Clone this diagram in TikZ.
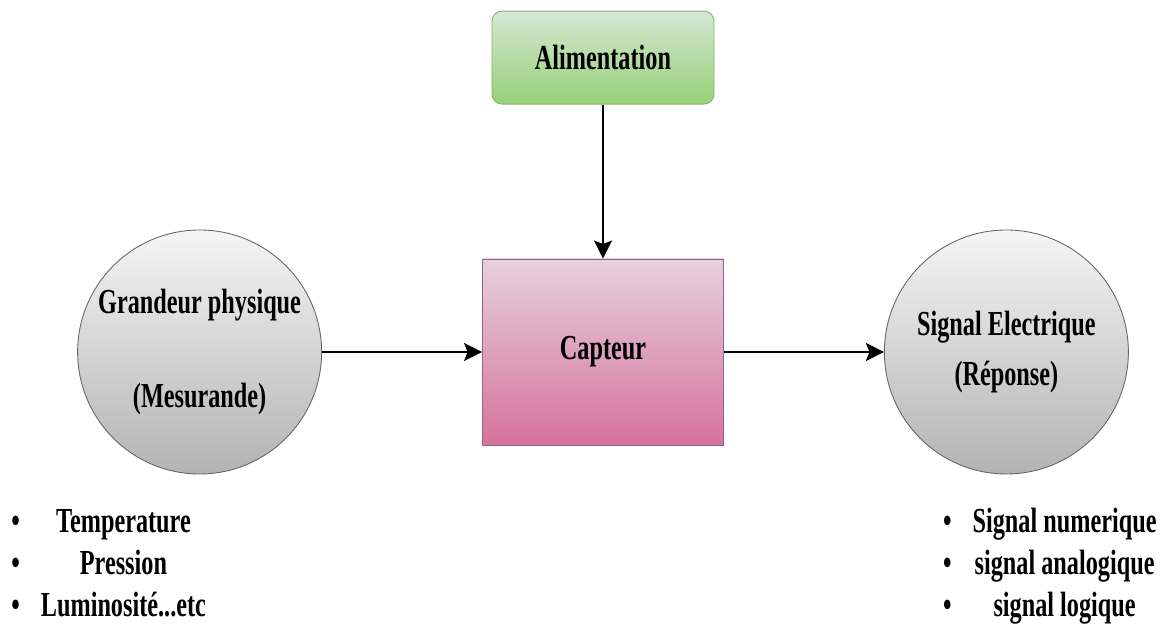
\documentclass[tikz,border=0pt]{standalone}
\usepackage{fontspec}
\setmainfont[FakeStretch=0.69]{Liberation Serif}
\usepackage{tikz}
\usetikzlibrary{arrows.meta, positioning}
\definecolor{colGreenTop}  {HTML}{D5E8D4}
\definecolor{colGreenBot}  {HTML}{97D077}
\definecolor{colGreenEdge} {HTML}{82B366}
\definecolor{colPinkTop}   {HTML}{E6D0DE}
\definecolor{colPinkBot}   {HTML}{D5739D}
\definecolor{colPinkEdge}  {HTML}{996185}
\definecolor{colGrayTop}   {HTML}{F5F5F5}
\definecolor{colGrayBot}   {HTML}{B3B3B3}
\definecolor{colGrayEdge}  {HTML}{666666}
\tikzset{
  base/.style={
    align=center, inner sep=0pt, line width=0.5pt,
    font=\fontsize{20}{24}\selectfont\bfseries
  },
  alimbox/.style={
    base, draw=colGreenEdge, rounded corners=2mm,
    top color=colGreenTop, bottom color=colGreenBot,
    minimum width=44.4mm, minimum height=18.6mm
  },
  captbox/.style={
    base, draw=colPinkEdge,
    top color=colPinkTop, bottom color=colPinkBot,
    minimum width=48.2mm, minimum height=37.2mm
  },
  grandeur/.style={
    base, circle, draw=colGrayEdge,
    top color=colGrayTop, bottom color=colGrayBot,
    minimum size=48.8mm
  },
  liste/.style={base},
  fleche/.style={
    -{Stealth[length=3.6mm,width=3.6mm,inset=0.7mm]},
    line width=1.3pt, draw=black
  }
}

\begin{document}
\begin{tikzpicture}[node distance=32mm]
  \useasboundingbox (0,0) rectangle (23.28,12.64);
  \node[captbox] (capteur) at (12.06,5.6) {Capteur};
  \node[alimbox, above=30.8mm of capteur] (alim) {Alimentation};
  \node[grandeur, left=of capteur]  (mesurande) {Grandeur physique\\[10.5mm](Mesurande)};
  \node[grandeur, right=of capteur] (reponse)   {Signal Electrique\\[1.5mm](Réponse)};
  % exemples sous les deux cercles
  \node[liste, anchor=west] (exmesures) at (0.22,1.32) {%
    \begin{tabular}{@{}c@{\hskip 4.2mm}c@{}}
      \textbullet & Temperature\\
      \textbullet & Pression\\
      \textbullet & Luminosité...etc
    \end{tabular}};
  \node[liste, anchor=east] (exsignaux) at (23.14,1.32) {%
    \begin{tabular}{@{}c@{\hskip 4.2mm}c@{}}
      \textbullet & Signal numerique\\
      \textbullet & signal analogique\\
      \textbullet & signal logique
    \end{tabular}};
  \draw[fleche] (alim) -- (capteur);
  \draw[fleche] (mesurande) -- (capteur);
  \draw[fleche] (capteur) -- (reponse);
\end{tikzpicture}
\end{document}
